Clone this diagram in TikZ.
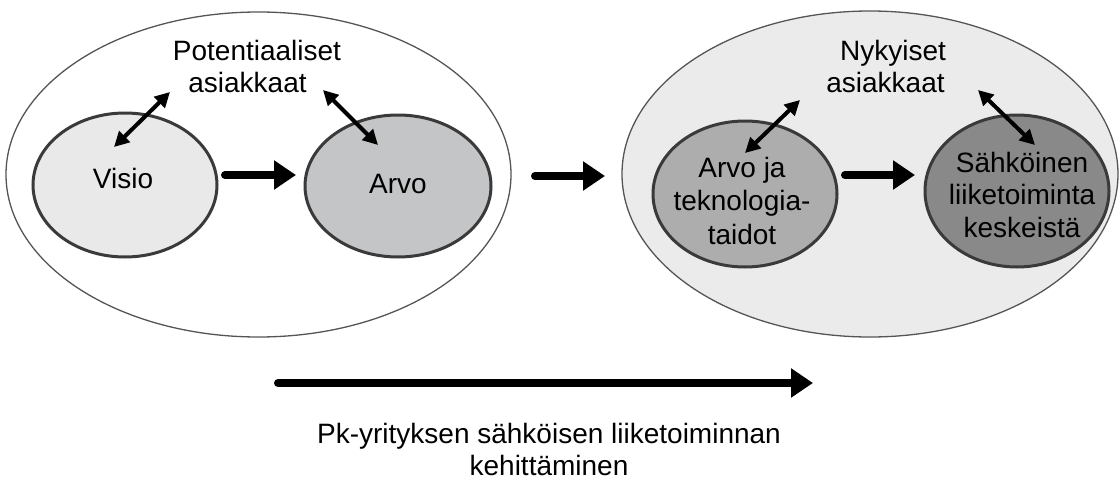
\documentclass[tikz,border=0pt]{standalone}
\usepackage{fontspec}
\setmainfont{Liberation Sans}
\usetikzlibrary{shapes.geometric,arrows.meta}
\definecolor{cVisio}{HTML}{E9E9E9}
\definecolor{cArvo}{HTML}{C4C5C6}
\definecolor{cArvoJa}{HTML}{ADADAD}
\definecolor{cSahk}{HTML}{898989}
\definecolor{cOuterR}{HTML}{EBEBEB}
\definecolor{cEdge}{HTML}{3A3A3A}
\definecolor{cOuterEdge}{HTML}{555555}
\begin{document}
\begin{tikzpicture}[x=1pt,y=-1pt,
  outer/.style={ellipse,draw=cOuterEdge,line width=1.3pt,inner sep=0pt},
  inner/.style={ellipse,draw=cEdge,line width=3pt,inner sep=0pt},
  lbl/.style={align=center,inner sep=0pt,anchor=base,font=\fontsize{28}{33}\selectfont},
  bigarrow/.style={line width=8pt,line cap=round,-{Triangle[length=22pt,width=28pt]}},
  dblarrow/.style={line width=4pt,{Triangle[length=15pt,width=15pt]}-{Triangle[length=15pt,width=15pt]}}]
\useasboundingbox (0,0) rectangle (1120,479);
% outer ellipses
\node[outer,fill=white,minimum width=505pt,minimum height=325pt] (L) at (258.5,174.5) {};
\node[outer,fill=cOuterR,minimum width=496pt,minimum height=326pt] (R) at (870,174) {};
% inner ellipses
\node[inner,fill=cVisio,minimum width=184pt,minimum height=144pt] (visio) at (125,185) {};
\node[inner,fill=cArvo,minimum width=186pt,minimum height=142pt] (arvo) at (398,186) {};
\node[inner,fill=cArvoJa,minimum width=184pt,minimum height=146pt] (arvoja) at (745,194) {};
\node[inner,fill=cSahk,minimum width=184pt,minimum height=152pt] (sahk) at (1017,191) {};
% texts (multi-line nodes: base = last line's baseline)
\node[lbl] (visioT) at (123,188) {Visio};
\node[lbl] (arvoT) at (398,193) {Arvo};
\node[lbl,font=\fontsize{28}{33.5}\selectfont] (arvojaT) at (742,244) {Arvo ja\\teknologia-\\taidot};
\node[lbl,font=\fontsize{28}{32.5}\selectfont] (sahkT) at (1022,237) {Sähköinen\\liiketoiminta\\keskeistä};
\node[lbl] (potA) at (257,60) {Potentiaaliset};
\node[lbl] (potB) at (247.5,92) {asiakkaat};
\node[lbl] (nykA) at (893,60) {Nykyiset};
\node[lbl] (nykB) at (885.5,92) {asiakkaat};
\node[lbl,font=\fontsize{28}{32}\selectfont] (bottom) at (549,475) {Pk-yrityksen sähköisen liiketoiminnan\\kehittäminen};
% arrow end points
\coordinate (a1s) at (225,175); \coordinate (a1e) at (296,175);
\coordinate (a2s) at (535,176); \coordinate (a2e) at (605,176);
\coordinate (a3s) at (845,175); \coordinate (a3e) at (915,175);
\coordinate (bs) at (278,383); \coordinate (be) at (813,383);
\coordinate (d1a) at (114,147); \coordinate (d1b) at (170,92);
\coordinate (d2a) at (323,90); \coordinate (d2b) at (378,145);
\coordinate (d3a) at (745,153); \coordinate (d3b) at (800,100);
\coordinate (d4a) at (978,90); \coordinate (d4b) at (1035,145);
% arrows
\draw[bigarrow] (a1s) -- (a1e);
\draw[bigarrow] (a2s) -- (a2e);
\draw[bigarrow] (a3s) -- (a3e);
\draw[bigarrow] (bs) -- (be);
\draw[dblarrow] (d1a) -- (d1b);
\draw[dblarrow] (d2a) -- (d2b);
\draw[dblarrow] (d3a) -- (d3b);
\draw[dblarrow] (d4a) -- (d4b);
\end{tikzpicture}
\end{document}
